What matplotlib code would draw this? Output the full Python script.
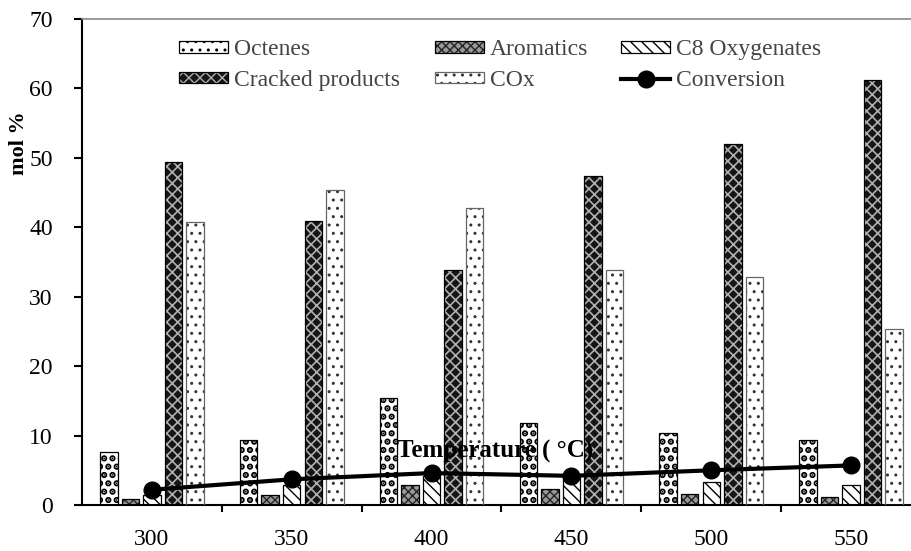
import numpy as np
import matplotlib
matplotlib.use("Agg")
import matplotlib.pyplot as plt
from matplotlib.patches import Patch
from matplotlib.lines import Line2D
from matplotlib.legend_handler import HandlerTuple

plt.rcParams['font.family'] = ['Liberation Serif', 'DejaVu Serif']

temps = ['300', '350', '400', '450', '500', '550']
octenes = [7.7, 9.4, 15.4, 11.8, 10.3, 9.4]
aromatics = [0.9, 1.4, 2.9, 2.3, 1.6, 1.1]
c8_oxygenates = [1.5, 2.9, 4.2, 4.2, 3.3, 2.9]
cracked = [49.4, 40.9, 33.9, 47.4, 52.0, 61.2]
cox = [40.7, 45.4, 42.8, 33.8, 32.8, 25.3]
conversion = [2.2, 3.7, 4.6, 4.2, 5.0, 5.7]

# name, values, face, hatch colour, hatch, hatch linewidth, outline colour
series = [
    ('Octenes', octenes, 'white', 'black', '..', 3.2, 'black'),
    ('Aromatics', aromatics, '#999999', '#222222', 'xxxx', 1.0, 'black'),
    ('C8 Oxygenates', c8_oxygenates, 'white', 'black', '\\\\\\', 1.0, 'black'),
    ('Cracked products', cracked, '#151515', '#b0b0b0', 'xxx', 1.2, 'black'),
    ('COx', cox, 'white', '#333333', '..', 1.0, '#666666'),
]

fig = plt.figure(figsize=(9.11, 5.51), dpi=100)
ax = fig.add_axes([82/911, 46/551, 839/911, 486/551])

x = np.arange(len(temps))
step = 0.154
width = 0.125
handles = {}
for i, (name, vals, face, hcol, hatch, hlw, ecol) in enumerate(series):
    pos = x + (i - 2) * step
    with plt.rc_context({'hatch.linewidth': hlw}):
        ax.bar(pos, vals, width, color=face, edgecolor=hcol, hatch=hatch, linewidth=0, zorder=2)
        hp = Patch(facecolor=face, edgecolor=hcol, hatch=hatch, linewidth=0)
    ax.bar(pos, vals, width, fill=False, edgecolor=ecol, linewidth=0.9, zorder=3)
    handles[name] = (hp, Patch(fill=False, edgecolor=ecol, linewidth=0.9))

ax.plot(x, conversion, color='black', lw=3, marker='o', ms=12, zorder=5)
conv_handle = Line2D([], [], color='black', lw=3, marker='o', ms=12)

ax.set_xlim(-0.5, 5.5)
ax.set_ylim(0, 70)
ax.set_yticks(range(0, 71, 10))
ax.set_xticks(x)
ax.set_xticklabels(temps)
ax.set_xticks(x[:-1] + 0.5, minor=True)
ax.tick_params(axis='x', which='major', length=0, pad=17, labelsize=17)
ax.tick_params(axis='x', which='minor', length=5, width=1.5, direction='out')
ax.tick_params(axis='y', length=6, width=1.5, direction='out', pad=15, labelsize=17)

ax.spines['right'].set_visible(False)
ax.spines['top'].set_color('#888888')
ax.spines['top'].set_linewidth(1.2)
ax.spines['left'].set_linewidth(1.5)
ax.spines['bottom'].set_linewidth(1.5)

ax.text(2.457, 6.9, 'Temperature ( °C)', ha='center', va='baseline',
        fontsize=18, fontweight='bold', zorder=4)
fig.text(19/911, 1 - 143/551, 'mol %', rotation=90, ha='center', va='center',
         fontsize=16, fontweight='bold')

# legend in three columns
cols = [
    (179, [handles['Octenes'], handles['Cracked products']], ['Octenes', 'Cracked products']),
    (435, [handles['Aromatics'], handles['COx']], ['Aromatics', 'COx']),
    (621, [handles['C8 Oxygenates'], conv_handle], ['C8 Oxygenates', 'Conversion']),
]
for px, hs, labels in cols:
    leg = fig.legend(hs, labels, loc='upper left', bbox_to_anchor=(px/911, 1 - 39/551),
                     frameon=False, fontsize=17, borderpad=0, borderaxespad=0,
                     handlelength=2.08, handleheight=0.4, handletextpad=0.25,
                     labelspacing=0.42, handler_map={tuple: HandlerTuple(ndivide=1)})
    for t in leg.get_texts():
        t.set_color('#444444')

fig.savefig('out.png', dpi=100)
